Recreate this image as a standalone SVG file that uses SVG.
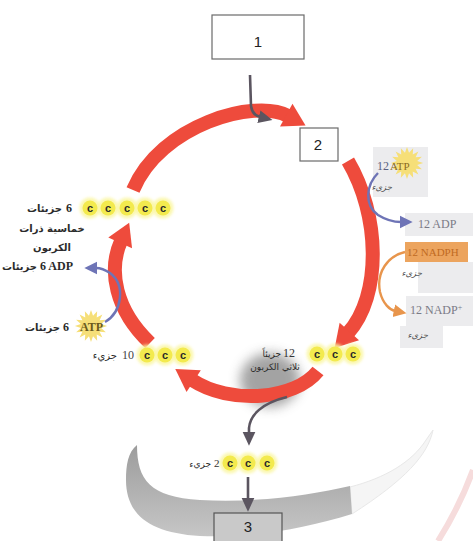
<svg xmlns="http://www.w3.org/2000/svg" width="473" height="541" viewBox="0 0 473 541">
  <style>
    .box { fill: #ffffff; stroke: #6a6a6a; stroke-width: 1.2; }
    .num { font-family: "Liberation Sans", Arial, sans-serif; font-size: 15px; fill: #222; text-anchor: middle; }
    .arc { fill: none; stroke: #ee4b3c; stroke-width: 14; stroke-linecap: butt; marker-end: url(#redHead); }
    .halo { fill: #faf6a0; opacity: 0.85; }
    .dot { fill: #f3ea4e; }
    .cl { font-family: "Liberation Sans", Arial, sans-serif; font-weight: bold; font-size: 11px; fill: #2a2a2a; text-anchor: middle; }
    .ar { font-family: "DejaVu Sans", "Noto Sans", sans-serif; font-weight: bold; font-size: 10px; fill: #2b2b2b; }
    .arl { font-family: "DejaVu Sans", "Noto Sans", sans-serif; font-size: 8.5px; fill: #555; font-style: italic; }
    .lat { font-family: "Liberation Serif", "Times New Roman", serif; font-size: 12px; fill: #2b2b2b; font-weight: bold; }
    .latg { font-family: "Liberation Serif", "Times New Roman", serif; font-size: 12px; fill: #7a7a86; }
    .panel { fill: #ececee; }
    .gline { fill: none; stroke: #5b5560; stroke-width: 2.6; }
    .bline { fill: none; stroke: #6e74b6; stroke-width: 2.4; }
    .oline { fill: none; stroke: #e8954c; stroke-width: 2.4; }
  </style>
  <defs>
    <marker id="redHead" markerUnits="userSpaceOnUse" markerWidth="30" markerHeight="30" viewBox="0 -15 24 30" refX="2" refY="0" orient="auto">
      <path d="M0,-13 L22,0 L0,13 Z" fill="#ee4b3c"/>
    </marker>
    <marker id="grayHead" markerUnits="userSpaceOnUse" markerWidth="14" markerHeight="14" viewBox="0 -6 12 12" refX="1" refY="0" orient="auto">
      <path d="M0,-5.5 L12,0 L0,5.5 Z" fill="#5b5560"/>
    </marker>
    <marker id="blueHead" markerUnits="userSpaceOnUse" markerWidth="14" markerHeight="14" viewBox="0 -6 12 12" refX="1" refY="0" orient="auto">
      <path d="M0,-5.5 L11,0 L0,5.5 Z" fill="#6e74b6"/>
    </marker>
    <marker id="orangeHead" markerUnits="userSpaceOnUse" markerWidth="14" markerHeight="14" viewBox="0 -6 12 12" refX="1" refY="0" orient="auto">
      <path d="M0,-5.5 L11,0 L0,5.5 Z" fill="#e8954c"/>
    </marker>
    <linearGradient id="bandFill" x1="0" y1="0" x2="0" y2="1">
      <stop offset="0" stop-color="#9c9c9c"/>
      <stop offset="1" stop-color="#c6c6c6"/>
    </linearGradient>
    <filter id="soft" x="-50%" y="-50%" width="200%" height="200%">
      <feGaussianBlur stdDeviation="6"/>
    </filter>
    <filter id="glow" x="-50%" y="-50%" width="200%" height="200%">
      <feGaussianBlur stdDeviation="1.5"/>
    </filter>
    <!-- sixteen-point starburst behind ATP -->
    <polygon id="burst" points="14,0 8.83,1.76 12.93,5.36 7.48,5 9.9,9.9 5,7.48 5.36,12.93 1.76,8.83 0,14 -1.76,8.83 -5.36,12.93 -5,7.48 -9.9,9.9 -7.48,5 -12.93,5.36 -8.83,1.76 -14,0 -8.83,-1.76 -12.93,-5.36 -7.48,-5 -9.9,-9.9 -5,-7.48 -5.36,-12.93 -1.76,-8.83 0,-14 1.76,-8.83 5.36,-12.93 5,-7.48 9.9,-9.9 7.48,-5 12.93,-5.36 8.83,-1.76" fill="#f6df78"/>
  </defs>

  <rect width="473" height="541" fill="#ffffff"/>

  <!-- background band at the bottom -->
  <g id="band">
    <path d="M350,487 C 385,478 412,462 426,440 L 433,430 C 428,455 405,480 352,514 Z" fill="#f5f5f5" stroke="#e8e8e8" stroke-width="1"/>
    <path d="M137,445 C 137,480 150,497 200,500 C 260,503 310,495 350,486 L 352,514 C 300,530 250,538 200,536 C 150,533 126,515 126,480 C 126,465 128,452 137,445 Z" fill="url(#bandFill)"/>
    <path d="M473,470 C 462,500 450,522 438,541" fill="none" stroke="#f6dcdc" stroke-width="6"/>
  </g>

  <!-- light panels on the right -->
  <g id="panels">
    <rect class="panel" x="373" y="147" width="55" height="50"/>
    <rect class="panel" x="405" y="213" width="68" height="23"/>
    <rect class="panel" x="418" y="262" width="55" height="31"/>
    <rect class="panel" x="406" y="296" width="67" height="30"/>
    <rect class="panel" x="400" y="326" width="43" height="22"/>
  </g>

  <!-- smudge under the three-carbon label -->
  <ellipse cx="270" cy="380" rx="30" ry="27" fill="#858585" opacity="0.75" filter="url(#soft)"/>

  <!-- connectors -->
  <g id="connectors">
    <path class="arc" d="M133,190 C 160,125 255,98 288,116"/>
    <path class="arc" d="M348,161 C 380,215 382,295 348,333"/>
    <path class="arc" d="M318,371 C 295,400 230,405 192,380"/>
    <path class="arc" d="M150,343 C 115,310 108,270 121,241"/>

    <path class="gline" d="M250,75 L251,106 C 252,113 256,116 260,117" marker-end="url(#grayHead)"/>
    <path class="gline" d="M287,397 C 262,403 250,415 249,428 L 249,433" marker-end="url(#grayHead)"/>
    <path class="gline" d="M248,477 L248,499" marker-end="url(#grayHead)"/>

    <path class="bline" d="M378,173 C 366,185 364,205 378,215 C 386,220 395,222 401,222" marker-end="url(#blueHead)"/>
    <path class="bline" d="M105,322 C 122,312 126,285 110,273 C 104,269 99,268 96,268" marker-end="url(#blueHead)"/>
    <path class="oline" d="M405,252 C 388,256 376,272 380,292 C 383,304 390,310 395,311" marker-end="url(#orangeHead)"/>
  </g>

  <!-- numbered boxes -->
  <g id="box1">
    <rect class="box" x="212" y="15" width="92" height="44"/>
    <text class="num" x="258" y="47">1</text>
  </g>
  <g id="box2">
    <rect class="box" x="300" y="128" width="38" height="33"/>
    <text class="num" x="318" y="150">2</text>
  </g>
  <g id="box3">
    <rect x="214" y="513" width="68" height="32" fill="#c9c9c9" stroke="#555" stroke-width="1.2"/>
    <text class="num" x="248" y="532">3</text>
  </g>

  <!-- five-carbon molecules -->
  <g id="pentose">
    <circle class="halo" cx="90" cy="208" r="10.5" filter="url(#glow)"/>
    <circle class="halo" cx="108" cy="208" r="10.5" filter="url(#glow)"/>
    <circle class="halo" cx="127" cy="208" r="10.5" filter="url(#glow)"/>
    <circle class="halo" cx="145" cy="208" r="10.5" filter="url(#glow)"/>
    <circle class="halo" cx="163" cy="208" r="10.5" filter="url(#glow)"/>
    <circle class="dot" cx="90" cy="208" r="7.5"/>
    <circle class="dot" cx="108" cy="208" r="7.5"/>
    <circle class="dot" cx="127" cy="208" r="7.5"/>
    <circle class="dot" cx="145" cy="208" r="7.5"/>
    <circle class="dot" cx="163" cy="208" r="7.5"/>
    <text class="cl" x="90" y="212">c</text>
    <text class="cl" x="108" y="212">c</text>
    <text class="cl" x="127" y="212">c</text>
    <text class="cl" x="145" y="212">c</text>
    <text class="cl" x="163" y="212">c</text>
    <text class="lat" x="66" y="212">6</text>
    <text class="ar" x="62" y="212" text-anchor="end">جزيئات</text>
    <text class="ar" x="52" y="232" text-anchor="middle">خماسية ذرات</text>
    <text class="ar" x="52" y="251" text-anchor="middle">الكربون</text>
  </g>

  <!-- ADP released on the left -->
  <g id="adpLeft">
    <text class="lat" x="40" y="270">6 ADP</text>
    <text class="ar" x="37" y="270" text-anchor="end">جزيئات</text>
  </g>

  <!-- ATP used on the left -->
  <g id="atpLeft">
    <use href="#burst" transform="translate(91,326) scale(1.15)"/>
    <text class="lat" x="80" y="331" style="fill:#6a5a1c">ATP</text>
    <text class="lat" x="63" y="331">6</text>
    <text class="ar" x="60" y="331" text-anchor="end">جزيئات</text>
  </g>

  <!-- ten three-carbon molecules -->
  <g id="tenTriose">
    <circle class="halo" cx="147" cy="355" r="10.5" filter="url(#glow)"/>
    <circle class="halo" cx="165" cy="355" r="10.5" filter="url(#glow)"/>
    <circle class="halo" cx="183" cy="355" r="10.5" filter="url(#glow)"/>
    <circle class="dot" cx="147" cy="355" r="7.5"/>
    <circle class="dot" cx="165" cy="355" r="7.5"/>
    <circle class="dot" cx="183" cy="355" r="7.5"/>
    <text class="cl" x="147" y="359">c</text>
    <text class="cl" x="165" y="359">c</text>
    <text class="cl" x="183" y="359">c</text>
    <text class="latg" x="122" y="359" style="fill:#444">10</text>
    <text class="ar" x="117" y="359" text-anchor="end" style="font-weight:normal">جزيء</text>
  </g>

  <!-- twelve three-carbon molecules -->
  <g id="twelveTriose">
    <circle class="halo" cx="317" cy="354" r="10.5" filter="url(#glow)"/>
    <circle class="halo" cx="335" cy="354" r="10.5" filter="url(#glow)"/>
    <circle class="halo" cx="353" cy="354" r="10.5" filter="url(#glow)"/>
    <circle class="dot" cx="317" cy="354" r="7.5"/>
    <circle class="dot" cx="335" cy="354" r="7.5"/>
    <circle class="dot" cx="353" cy="354" r="7.5"/>
    <text class="cl" x="317" y="358">c</text>
    <text class="cl" x="335" y="358">c</text>
    <text class="cl" x="353" y="358">c</text>
    <text class="latg" x="283" y="357" style="fill:#333">12</text>
    <text class="ar" x="281" y="357" text-anchor="end" style="font-weight:normal;font-size:9px">جزيئاً</text>
    <text class="ar" x="275" y="370" text-anchor="middle" style="font-weight:normal;font-size:9px">ثلاثي الكربون</text>
  </g>

  <!-- two three-carbon molecules leaving the cycle -->
  <g id="twoTriose">
    <circle class="halo" cx="230" cy="463" r="10.5" filter="url(#glow)"/>
    <circle class="halo" cx="248" cy="463" r="10.5" filter="url(#glow)"/>
    <circle class="halo" cx="267" cy="463" r="10.5" filter="url(#glow)"/>
    <circle class="dot" cx="230" cy="463" r="7.5"/>
    <circle class="dot" cx="248" cy="463" r="7.5"/>
    <circle class="dot" cx="267" cy="463" r="7.5"/>
    <text class="cl" x="230" y="467">c</text>
    <text class="cl" x="248" y="467">c</text>
    <text class="cl" x="267" y="467">c</text>
    <text class="latg" x="214" y="467" style="fill:#333;font-size:11px">2</text>
    <text class="ar" x="211" y="467" text-anchor="end" style="font-weight:normal;font-size:9px">جزيء</text>
  </g>

  <!-- ATP / ADP on the right -->
  <g id="atpRight">
    <use href="#burst" transform="translate(407,163) scale(1.15)"/>
    <text class="latg" x="377" y="170" style="fill:#5a6080">12</text>
    <text class="latg" x="390" y="170" style="fill:#8a6a20;font-size:11px">ATP</text>
    <text class="arl" x="392" y="190" text-anchor="end">جزيء</text>
  </g>
  <g id="adpRight">
    <text class="latg" x="418" y="228">12 ADP</text>
  </g>

  <!-- NADPH / NADP+ on the right -->
  <g id="nadph">
    <rect x="405" y="242" width="63" height="20" fill="#eca45e"/>
    <text class="latg" x="407" y="256" style="fill:#c06a22;font-size:11px">12 NADPH</text>
    <text class="arl" x="422" y="276" text-anchor="end">جزيء</text>
  </g>
  <g id="nadp">
    <text class="latg" x="410" y="314">12 NADP<tspan dy="-4" font-size="8">+</tspan></text>
    <text class="arl" x="428" y="338" text-anchor="end">جزيء</text>
  </g>
</svg>
